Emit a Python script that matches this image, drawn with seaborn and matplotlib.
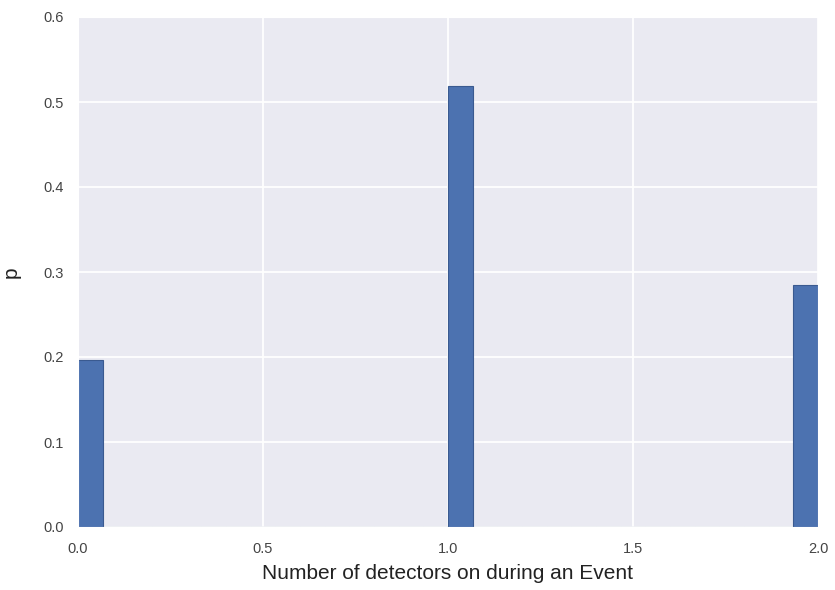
import matplotlib
matplotlib.use("Agg")
import matplotlib.pyplot as plt
import seaborn as sns
import pandas as pd

detectors_on = [0, 1, 2]
probability = [0.196, 0.519, 0.285]
x_ticks = [0.0, 0.5, 1.0, 1.5, 2.0]
y_ticks = [0.0, 0.1, 0.2, 0.3, 0.4, 0.5, 0.6]

sns.set_style("darkgrid")
plt.rcParams['font.family'] = ['Liberation Sans', 'DejaVu Sans']

df = pd.DataFrame({"n": detectors_on, "p": probability})

fig = plt.figure(figsize=(8.35, 5.9), dpi=100)
ax = fig.add_axes([78/835, 1 - 527/590, (818 - 78)/835, (527 - 17)/590])
sns.histplot(data=df, x="n", weights="p", bins=30, binrange=(0, 2),
             color="#4C72B0", edgecolor="#3a5a90", linewidth=0.8, alpha=1, ax=ax)
ax.set_xlim(0, 2)
ax.set_ylim(0, 0.6)
ax.set_xticks(x_ticks)
ax.set_yticks(y_ticks)
ax.set_xticklabels([f"{t:.1f}" for t in x_ticks])
ax.set_yticklabels([f"{t:.1f}" for t in y_ticks])
ax.grid(color="white", linewidth=1.3)
ax.tick_params(labelsize=10.5, colors="#444444", pad=7)
ax.axhline(0, color="#bbbbbb", linewidth=1.2, zorder=0)
ax.set_xlabel("Number of detectors on during an Event", fontsize=15,
              color="#222222", labelpad=6)
ax.set_ylabel("p", fontsize=15, color="#222222", labelpad=16)
fig.savefig("out.png", dpi=100)
